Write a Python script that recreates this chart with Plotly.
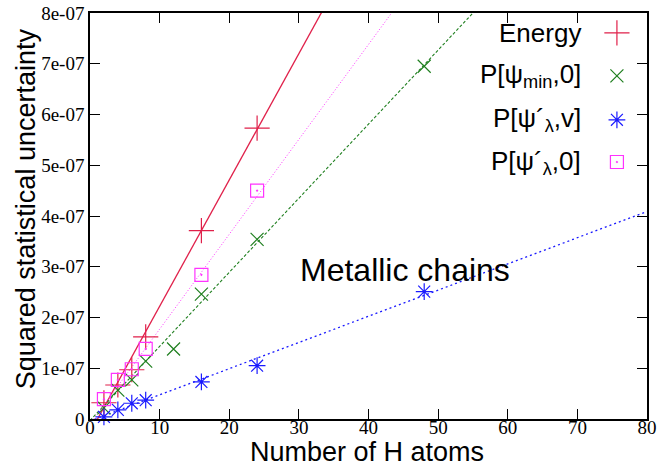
import plotly.graph_objects as go

# ---- data ----
energy_x = [2, 4, 6, 8, 16, 24]
energy_y = [0.32e-07, 0.67e-07, 0.97e-07, 1.62e-07, 3.71e-07, 5.73e-07]

pmin_x = [2, 4, 6, 8, 12, 16, 24, 48]
pmin_y = [0.22e-07, 0.57e-07, 0.77e-07, 1.14e-07, 1.38e-07, 2.46e-07, 3.54e-07, 6.95e-07]

plv_x = [2, 4, 6, 8, 16, 24, 48]
plv_y = [0.04e-07, 0.18e-07, 0.31e-07, 0.37e-07, 0.73e-07, 1.05e-07, 2.51e-07]

pl0_x = [2, 4, 6, 8, 16, 24]
pl0_y = [0.39e-07, 0.77e-07, 0.98e-07, 1.38e-07, 2.84e-07, 4.50e-07]

# linear fits (slope, intercept)
fit_energy = (0.249e-07, -0.27e-07)
fit_pmin = (0.146e-07, -0.03e-07)
fit_plv = (0.0516e-07, -0.04e-07)
fit_pl0 = (0.187e-07, -0.10e-07)
fit_x = [0, 80]

x_ticks = [0, 10, 20, 30, 40, 50, 60, 70, 80]
y_ticks = [0, 1e-07, 2e-07, 3e-07, 4e-07, 5e-07, 6e-07, 7e-07, 8e-07]
y_ticktext = ["0", "1e-07", "2e-07", "3e-07", "4e-07", "5e-07", "6e-07", "7e-07", "8e-07"]

legend_labels = ["Energy", "P[ψ<sub>min</sub>,0]", "P[ψ´<sub>λ</sub>,v]", "P[ψ´<sub>λ</sub>,0]"]

RED = "#e0204a"
GREEN = "#1f7f1f"
BLUE = "#1a1aff"
MAG = "#ff33ff"

series = [
    (energy_x, energy_y, fit_energy, RED, "cross-thin-open", 18, "solid", 1.3),
    (pmin_x, pmin_y, fit_pmin, GREEN, "x-thin-open", 13, "3px,2px", 1.1),
    (plv_x, plv_y, fit_plv, BLUE, "asterisk-open", 14, "2px,3px", 1.3),
    (pl0_x, pl0_y, fit_pl0, MAG, "square-open-dot", 13, "1px,2px", 1.0),
]

SANS = "Liberation Sans"
SERIF = "Liberation Serif"

fig = go.Figure()
for xs, ys, (a, b), col, sym, sz, dash, lw in series:
    fx = fit_x
    fy = [a * v + b for v in fx]
    fig.add_trace(go.Scatter(x=fx, y=fy, mode="lines",
                             line=dict(color=col, width=lw, dash=dash),
                             showlegend=False, hoverinfo="skip"))
for xs, ys, (a, b), col, sym, sz, dash, lw in series:
    fig.add_trace(go.Scatter(x=xs, y=ys, mode="markers",
                             marker=dict(symbol=sym, size=sz, color=col,
                                         line=dict(color=col, width=1.2)),
                             showlegend=False, cliponaxis=False))

# manual legend (text right, symbol at right)
leg_y = [0.951, 0.845, 0.737, 0.633]
for (xs, ys, f, col, sym, sz, dash, lw), lab, ly in zip(series, legend_labels, leg_y):
    fig.add_annotation(xref="paper", yref="paper", x=0.885, y=ly, text=lab,
                       showarrow=False, xanchor="right", yanchor="middle",
                       font=dict(family=SANS, size=26, color="black"))
    fig.add_trace(go.Scatter(x=[0.946], y=[ly], xaxis="x2", yaxis="y2", mode="markers",
                             marker=dict(symbol=sym, size=sz, color=col,
                                         line=dict(color=col, width=1.2)),
                             showlegend=False, hoverinfo="skip"))

fig.add_annotation(x=45.3, y=2.94e-07, text="Metallic chains", showarrow=False,
                   xanchor="center", yanchor="middle",
                   font=dict(family=SANS, size=32, color="black"))

# axis titles
fig.add_annotation(xref="paper", yref="paper", x=0.498, y=-0.082, text="Number of H atoms",
                   showarrow=False, xanchor="center", yanchor="middle",
                   font=dict(family=SANS, size=27, color="black"))
fig.add_annotation(xref="paper", yref="paper", x=-0.115, y=0.519,
                   text="Squared statistical uncertainty", textangle=-90,
                   showarrow=False, xanchor="center", yanchor="middle",
                   font=dict(family=SANS, size=27, color="black"))

tickfont = dict(family=SERIF, size=19, color="black")

fig.update_layout(
    width=659, height=466,
    margin=dict(l=90, r=12, t=13, b=47),
    plot_bgcolor="white", paper_bgcolor="white",
    showlegend=False,
    xaxis=dict(range=[0, 80], tickvals=x_ticks, ticks="inside", ticklen=10, tickwidth=1.2,
               tickcolor="black", showline=True, linecolor="black", linewidth=1.5,
               mirror="allticks", showgrid=False, zeroline=False, tickfont=tickfont,
               automargin=False, ticklabelstandoff=-10),
    yaxis=dict(range=[0, 8e-07], tickvals=y_ticks, ticktext=y_ticktext, ticks="inside",
               ticklen=10, tickwidth=1.2, tickcolor="black", showline=True, linecolor="black",
               linewidth=1.5, mirror="allticks", showgrid=False, zeroline=False,
               tickfont=tickfont, automargin=False),
    xaxis2=dict(range=[0, 1], overlaying="x", visible=False, fixedrange=True),
    yaxis2=dict(range=[0, 1], overlaying="y", visible=False, fixedrange=True),
)

fig.write_html("out.html")
